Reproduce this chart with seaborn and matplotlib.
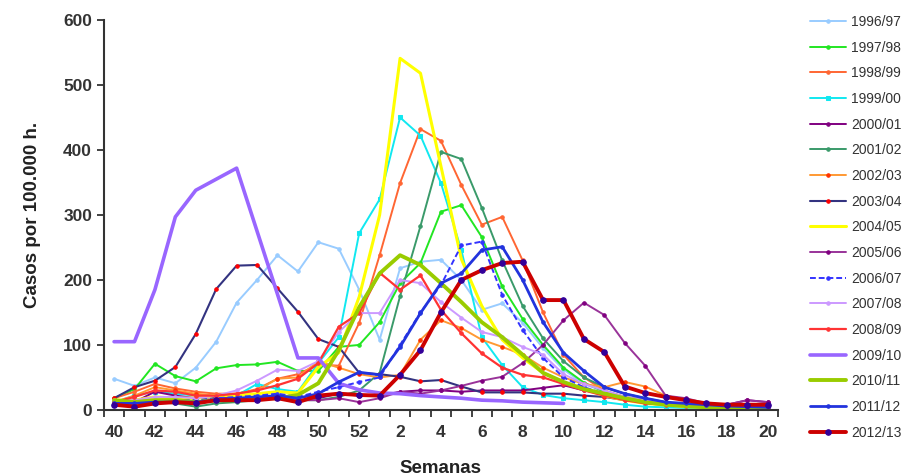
import numpy as np
import pandas as pd
import matplotlib
matplotlib.use("Agg")
import matplotlib.pyplot as plt
import seaborn as sns

# Weeks of the season (week 40 to week 20 of the following year)
weeks = list(range(40, 53)) + list(range(1, 21))
nan = np.nan

s1996 = [48, 37, 50, 41, 65, 105, 165, 200, 238, 213, 258, 248, 185, 108, 218, 228, 231, 200, 154, 164, 134, 95, 62, 40, 28, 18, 12, 10, 8, 6, 5, 4, 3]
s1997 = [18, 32, 71, 52, 44, 64, 69, 70, 74, 60, 60, 97, 100, 135, 195, 226, 305, 315, 266, 190, 140, 100, 65, 42, 28, 20, 15, 10, 8, 6, 5, 4, 3]
s1998 = [18, 28, 40, 33, 28, 25, 25, 32, 48, 55, 70, 68, 134, 238, 349, 432, 414, 346, 285, 297, 230, 150, 85, 50, 30, 20, 15, 12, 8, 6, 5, 4, 3]
s1999 = [12, 22, 28, 25, 22, 18, 22, 40, 32, 28, 72, 112, 272, 324, 450, 422, 349, 246, 112, 69, 35, 23, 18, 15, 12, 8, 5, 4, 3, 2, 2, 2, 2]
s2000 = [10, 12, 28, 22, 18, 20, 18, 18, 20, 15, 18, 25, 22, 22, 28, 30, 30, 28, 30, 30, 30, 34, 38, 30, 25, 18, 12, 10, 10, 8, 8, 15, 12]
s2001 = [10, 10, 12, 10, 5, 10, 12, 15, 18, 15, 15, 20, 30, 57, 175, 283, 397, 386, 311, 230, 160, 110, 75, 50, 35, 25, 18, 12, 8, 6, 5, 4, 3]
s2002 = [12, 22, 35, 30, 25, 22, 25, 30, 48, 50, 75, 65, 55, 50, 54, 108, 138, 126, 108, 97, 85, 65, 50, 40, 35, 43, 36, 22, 15, 10, 5, 3, 2]
s2003 = [18, 35, 45, 66, 117, 186, 222, 223, 187, 151, 109, 97, 57, 55, 51, 44, 46, 36, 27, 27, 27, 25, 25, 22, 20, 15, 12, 10, 8, 7, 6, 5, 5]
s2004 = [15, 15, 20, 18, 18, 22, 22, 25, 28, 26, 66, 88, 174, 300, 541, 518, 375, 232, 160, 108, 80, 57, 42, 32, 22, 15, 10, 8, 5, 4, 3, 2, 2]
s2005 = [8, 10, 12, 15, 12, 15, 15, 18, 20, 15, 15, 18, 12, 18, 28, 25, 30, 37, 45, 51, 72, 100, 138, 165, 146, 103, 68, 22, 18, 10, 8, 15, 12]
s2006 = [10, 10, 15, 15, 15, 18, 20, 22, 25, 20, 28, 35, 43, 50, 100, 150, 192, 253, 259, 177, 123, 80, 50, 35, 25, 18, 12, 10, 8, 6, 5, 4, 3]
s2007 = [15, 15, 20, 20, 18, 22, 30, 45, 62, 60, 75, 120, 149, 149, 200, 195, 166, 142, 120, 112, 97, 85, 55, 40, 30, 20, 15, 10, 8, 6, 5, 4, 3]
s2008 = [12, 20, 30, 28, 22, 22, 25, 30, 38, 48, 72, 128, 149, 211, 185, 207, 154, 118, 87, 65, 54, 50, 40, 30, 22, 15, 10, 8, 6, 5, 4, 3, 3]
s2009 = [105, 105, 185, 297, 338, 355, 372, 275, 178, 80, 80, 41, 31, 26, 25, 22, 20, 18, 15, 14, 12, 11, 10, nan, nan, nan, nan, nan, nan, nan, nan, nan, nan]
s2010 = [15, 12, 15, 15, 12, 15, 15, 18, 18, 23, 41, 92, 158, 210, 238, 223, 195, 166, 135, 112, 85, 57, 43, 32, 25, 18, 12, 8, 6, 4, 3, 2, 2]
s2011 = [10, 10, 12, 12, 12, 15, 18, 20, 22, 18, 25, 43, 58, 54, 97, 149, 195, 210, 246, 251, 200, 135, 88, 60, 35, 25, 18, 12, 10, 8, 6, 5, 4]
s2012 = [8, 5, 10, 12, 10, 15, 15, 15, 18, 12, 22, 25, 23, 22, 54, 92, 150, 200, 215, 226, 228, 169, 169, 109, 89, 36, 26, 20, 15, 10, 8, 8, 8]

seasons = ["1996/97", "1997/98", "1998/99", "1999/00", "2000/01", "2001/02",
           "2002/03", "2003/04", "2004/05", "2005/06", "2006/07", "2007/08",
           "2008/09", "2009/10", "2010/11", "2011/12", "2012/13"]
values = [s1996, s1997, s1998, s1999, s2000, s2001, s2002, s2003, s2004,
          s2005, s2006, s2007, s2008, s2009, s2010, s2011, s2012]

# line styles: colour, width, marker, marker colour, dashes
styles = {
    "1996/97": ("#99CCFF", 1.4, "o", "#99CCFF", ""),
    "1997/98": ("#22E622", 1.4, "o", "#22E622", ""),
    "1998/99": ("#FF6633", 1.4, "o", "#FF6633", ""),
    "1999/00": ("#11E8F0", 1.4, "s", "#11E8F0", ""),
    "2000/01": ("#800080", 1.4, "o", "#800080", ""),
    "2001/02": ("#3A9A6A", 1.4, "o", "#3A9A6A", ""),
    "2002/03": ("#FF9933", 1.4, "o", "#FF3300", ""),
    "2003/04": ("#333380", 1.5, "o", "#FF0000", ""),
    "2004/05": ("#FFFF00", 2.2, "", "#FFFF00", ""),
    "2005/06": ("#993399", 1.4, "o", "#800080", ""),
    "2006/07": ("#3333FF", 1.4, "o", "#3333FF", (3, 1.5)),
    "2007/08": ("#CC99FF", 1.4, "o", "#CC99FF", ""),
    "2008/09": ("#FF3333", 1.6, "o", "#FF3333", ""),
    "2009/10": ("#9966FF", 2.6, "", "#9966FF", ""),
    "2010/11": ("#99CC00", 2.8, "", "#99CC00", ""),
    "2011/12": ("#2233DD", 2.0, "o", "#2233DD", ""),
    "2012/13": ("#CC0000", 2.8, "o", "#330099", ""),
}

sns.set_style("white")
plt.rcParams["font.family"] = ["Liberation Sans", "DejaVu Sans"]

fig = plt.figure(figsize=(9.11, 4.75), dpi=100)
ax = fig.add_axes([0.114, 0.137, 0.74, 0.821])

x_pos = np.arange(len(weeks))
for season, vals in zip(seasons, values):
    color, lw, marker, mcolor, dash = styles[season]
    df = pd.DataFrame({"pos": x_pos, "casos": vals})
    kw = {}
    if dash:
        kw["dashes"] = dash
    sns.lineplot(data=df, x="pos", y="casos", ax=ax, color=color, linewidth=lw,
                 marker=marker if marker else None, markersize=4 if season == "2012/13" else 2.5,
                 markerfacecolor=mcolor, markeredgecolor=mcolor, label=season, **kw)

ax.set_xlim(-0.5, len(weeks) - 0.5)
ax.set_ylim(0, 600)

# tick marks between categories, labels every second week
ax.set_xticks(np.arange(-0.5, len(weeks), 1.0))
ax.set_xticklabels([])
ax.set_xticks(x_pos[::2], minor=True)
ax.set_xticklabels([str(w) for w in weeks[::2]], minor=True)
ax.tick_params(axis="x", which="major", direction="out", length=5, width=1.3, color="#333333", bottom=True)
ax.tick_params(axis="x", which="minor", length=0, pad=11, labelsize=12.5, labelcolor="#333333")
ax.set_yticks(np.arange(0, 601, 100))
ax.tick_params(axis="y", direction="out", length=5, width=1.3, color="#333333", left=True,
               labelsize=12.5, labelcolor="#333333")
for lab in ax.get_xticklabels(minor=True) + ax.get_yticklabels():
    lab.set_fontweight("bold")

for side in ["top", "right"]:
    ax.spines[side].set_visible(False)
for side in ["left", "bottom"]:
    ax.spines[side].set_color("#333333")
    ax.spines[side].set_linewidth(1.5)

ax.set_xlabel("Semanas", fontsize=13.5, fontweight="bold", color="#222222", labelpad=14)
ax.set_ylabel("Casos por 100.000 h.", fontsize=13.5, fontweight="bold", color="#222222", labelpad=16)

ax.legend(loc="upper left", bbox_to_anchor=(0.875, 0.995), bbox_transform=fig.transFigure,
          frameon=False, prop={"family": "Liberation Sans", "size": 10},
          labelspacing=0.84, handlelength=2.6, handletextpad=0.4, labelcolor="#333333")

fig.savefig("out.png", dpi=100)
